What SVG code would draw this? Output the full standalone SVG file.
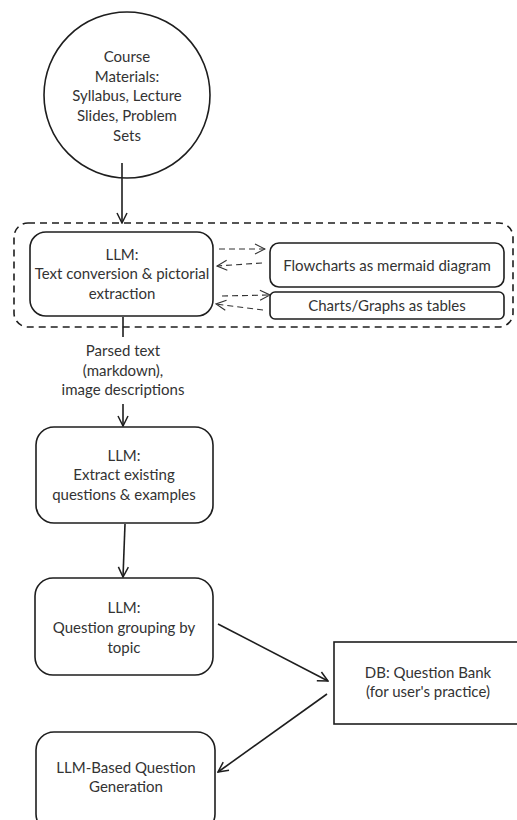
<svg xmlns="http://www.w3.org/2000/svg" width="517" height="820" viewBox="0 0 517 820">
<defs>
<style>
.n{fill:none;stroke:#1e1e1e;stroke-width:1.6}
.t{font-family:Lato,"Open Sans",sans-serif;font-size:15px;fill:#333;text-anchor:middle}
.c{fill:none;stroke:#1e1e1e;stroke-width:1.6}
.d{fill:none;stroke:#333;stroke-width:1.1;stroke-dasharray:6 4}
.g{fill:none;stroke:#1e1e1e;stroke-width:1.6;stroke-dasharray:7 5}
</style>
<marker id="a" viewBox="0 0 12 12" refX="11" refY="6" markerWidth="12" markerHeight="12" markerUnits="userSpaceOnUse" orient="auto"><path d="M1,1 L11,6 L1,11" fill="none" stroke="#1e1e1e" stroke-width="1.5"/></marker>
<marker id="b" viewBox="0 0 12 12" refX="11" refY="6" markerWidth="12" markerHeight="12" markerUnits="userSpaceOnUse" orient="auto"><path d="M1,1 L11,6 L1,11" fill="none" stroke="#333" stroke-width="1.1"/></marker>
</defs>
<rect width="517" height="820" fill="#fff"/>
<g id="group">
<rect class="g" x="14" y="223" width="499" height="104" rx="14"/>
</g>
<g id="connectors">
<line class="c" x1="122" y1="163" x2="122" y2="223" marker-end="url(#a)"/>
<line class="d" x1="219" y1="249" x2="265" y2="249" marker-end="url(#b)"/>
<line class="d" x1="262" y1="263" x2="217" y2="266" marker-end="url(#b)"/>
<line class="d" x1="222" y1="296" x2="270" y2="295" marker-end="url(#b)"/>
<line class="d" x1="263" y1="310" x2="216" y2="304" marker-end="url(#b)"/>
<line class="c" x1="123" y1="317" x2="123" y2="337"/>
<line class="c" x1="123" y1="404" x2="123" y2="426" marker-end="url(#a)"/>
<line class="c" x1="125" y1="524" x2="123" y2="577" marker-end="url(#a)"/>
<line class="c" x1="218" y1="624" x2="328" y2="681" marker-end="url(#a)"/>
<line class="c" x1="327" y1="694" x2="218" y2="772" marker-end="url(#a)"/>
<text class="t"><tspan x="123" y="356">Parsed text</tspan><tspan x="123" y="376">(markdown),</tspan><tspan x="123" y="395">image descriptions</tspan></text>
</g>
<g id="course">
<circle class="n" cx="127" cy="95" r="83"/>
<text class="t"><tspan x="127" y="62">Course</tspan><tspan x="127" y="82">Materials:</tspan><tspan x="127" y="101">Syllabus, Lecture</tspan><tspan x="127" y="121">Slides, Problem</tspan><tspan x="127" y="141">Sets</tspan></text>
</g>
<g id="llm1">
<rect class="n" x="30" y="232" width="183" height="84" rx="16"/>
<text class="t"><tspan x="122" y="260">LLM:</tspan><tspan x="122" y="279">Text conversion &amp; pictorial</tspan><tspan x="122" y="299">extraction</tspan></text>
</g>
<g id="flow">
<rect class="n" x="270" y="243" width="234" height="44" rx="9"/>
<text class="t" x="387" y="271">Flowcharts as mermaid diagram</text>
</g>
<g id="charts">
<rect class="n" x="270" y="292" width="234" height="27" rx="5"/>
<text class="t" x="387" y="311">Charts/Graphs as tables</text>
</g>
<g id="llm2">
<rect class="n" x="36" y="427" width="177" height="96" rx="18"/>
<text class="t"><tspan x="124" y="461">LLM:</tspan><tspan x="124" y="480">Extract existing</tspan><tspan x="124" y="500">questions &amp; examples</tspan></text>
</g>
<g id="llm3">
<rect class="n" x="35" y="578" width="178" height="97" rx="18"/>
<text class="t"><tspan x="124" y="613">LLM:</tspan><tspan x="124" y="633">Question grouping by</tspan><tspan x="124" y="653">topic</tspan></text>
</g>
<g id="db">
<rect class="n" x="334" y="642" width="190" height="82"/>
<text class="t"><tspan x="428" y="678">DB: Question Bank</tspan><tspan x="428" y="697">(for user's practice)</tspan></text>
</g>
<g id="llm4">
<rect class="n" x="36" y="732" width="179" height="100" rx="18"/>
<text class="t"><tspan x="126" y="773">LLM-Based Question</tspan><tspan x="126" y="792">Generation</tspan></text>
</g>
</svg>
